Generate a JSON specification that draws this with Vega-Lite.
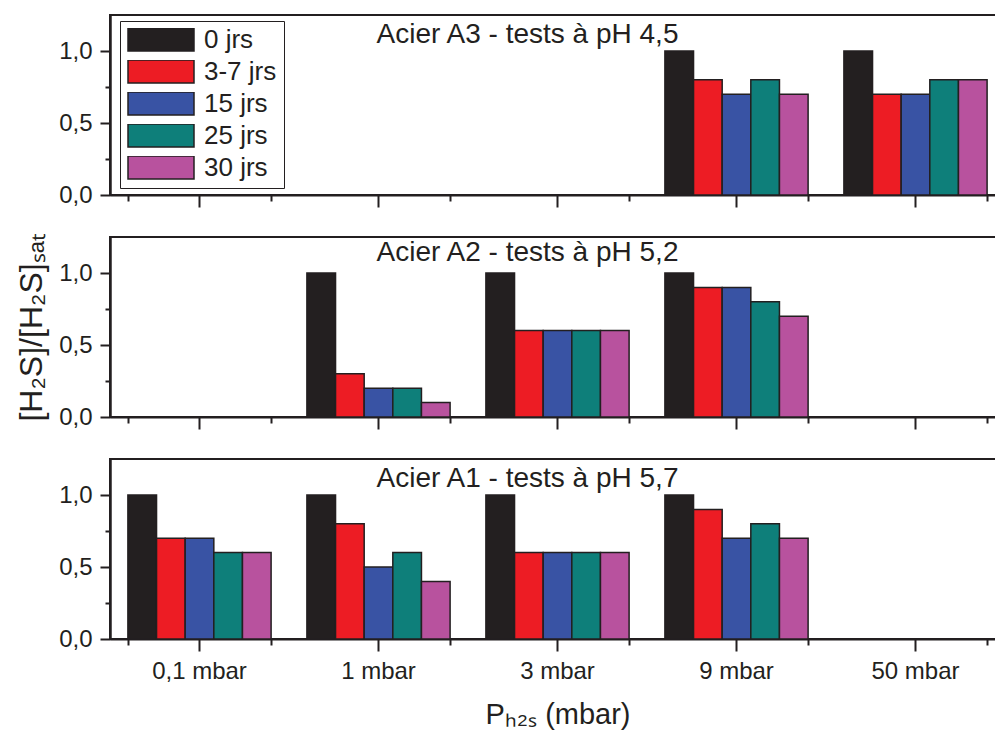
{
  "$schema": "https://vega.github.io/schema/vega-lite/v6.json",
  "padding": {"left": 14, "top": 14, "right": 0, "bottom": 0},
  "background": "white",
  "config": {
    "font": "Liberation Sans",
    "view": {"stroke": "#231f20", "strokeWidth": 2},
    "axis": {"domainColor": "#231f20", "tickColor": "#231f20", "labelColor": "#231f20", "titleColor": "#231f20", "grid": false, "labelFont": "Liberation Sans", "titleFont": "Liberation Sans", "titleFontWeight": "normal", "domainWidth": 2, "tickWidth": 2},
    "title": {"font": "Liberation Sans", "fontSize": 28, "fontWeight": "normal", "color": "#231f20", "orient": "top", "anchor": "middle", "frame": "group", "offset": -34, "baseline": "alphabetic", "dx": -30}
  },
  "datasets": {
    "bars": [
      {"panel": "A3", "pressure": "9 mbar", "duration": "0 jrs", "value": 1.0},
      {"panel": "A3", "pressure": "9 mbar", "duration": "3-7 jrs", "value": 0.8},
      {"panel": "A3", "pressure": "9 mbar", "duration": "15 jrs", "value": 0.7},
      {"panel": "A3", "pressure": "9 mbar", "duration": "25 jrs", "value": 0.8},
      {"panel": "A3", "pressure": "9 mbar", "duration": "30 jrs", "value": 0.7},
      {"panel": "A3", "pressure": "50 mbar", "duration": "0 jrs", "value": 1.0},
      {"panel": "A3", "pressure": "50 mbar", "duration": "3-7 jrs", "value": 0.7},
      {"panel": "A3", "pressure": "50 mbar", "duration": "15 jrs", "value": 0.7},
      {"panel": "A3", "pressure": "50 mbar", "duration": "25 jrs", "value": 0.8},
      {"panel": "A3", "pressure": "50 mbar", "duration": "30 jrs", "value": 0.8},
      {"panel": "A2", "pressure": "1 mbar", "duration": "0 jrs", "value": 1.0},
      {"panel": "A2", "pressure": "1 mbar", "duration": "3-7 jrs", "value": 0.3},
      {"panel": "A2", "pressure": "1 mbar", "duration": "15 jrs", "value": 0.2},
      {"panel": "A2", "pressure": "1 mbar", "duration": "25 jrs", "value": 0.2},
      {"panel": "A2", "pressure": "1 mbar", "duration": "30 jrs", "value": 0.1},
      {"panel": "A2", "pressure": "3 mbar", "duration": "0 jrs", "value": 1.0},
      {"panel": "A2", "pressure": "3 mbar", "duration": "3-7 jrs", "value": 0.6},
      {"panel": "A2", "pressure": "3 mbar", "duration": "15 jrs", "value": 0.6},
      {"panel": "A2", "pressure": "3 mbar", "duration": "25 jrs", "value": 0.6},
      {"panel": "A2", "pressure": "3 mbar", "duration": "30 jrs", "value": 0.6},
      {"panel": "A2", "pressure": "9 mbar", "duration": "0 jrs", "value": 1.0},
      {"panel": "A2", "pressure": "9 mbar", "duration": "3-7 jrs", "value": 0.9},
      {"panel": "A2", "pressure": "9 mbar", "duration": "15 jrs", "value": 0.9},
      {"panel": "A2", "pressure": "9 mbar", "duration": "25 jrs", "value": 0.8},
      {"panel": "A2", "pressure": "9 mbar", "duration": "30 jrs", "value": 0.7},
      {"panel": "A1", "pressure": "0,1 mbar", "duration": "0 jrs", "value": 1.0},
      {"panel": "A1", "pressure": "0,1 mbar", "duration": "3-7 jrs", "value": 0.7},
      {"panel": "A1", "pressure": "0,1 mbar", "duration": "15 jrs", "value": 0.7},
      {"panel": "A1", "pressure": "0,1 mbar", "duration": "25 jrs", "value": 0.6},
      {"panel": "A1", "pressure": "0,1 mbar", "duration": "30 jrs", "value": 0.6},
      {"panel": "A1", "pressure": "1 mbar", "duration": "0 jrs", "value": 1.0},
      {"panel": "A1", "pressure": "1 mbar", "duration": "3-7 jrs", "value": 0.8},
      {"panel": "A1", "pressure": "1 mbar", "duration": "15 jrs", "value": 0.5},
      {"panel": "A1", "pressure": "1 mbar", "duration": "25 jrs", "value": 0.6},
      {"panel": "A1", "pressure": "1 mbar", "duration": "30 jrs", "value": 0.4},
      {"panel": "A1", "pressure": "3 mbar", "duration": "0 jrs", "value": 1.0},
      {"panel": "A1", "pressure": "3 mbar", "duration": "3-7 jrs", "value": 0.6},
      {"panel": "A1", "pressure": "3 mbar", "duration": "15 jrs", "value": 0.6},
      {"panel": "A1", "pressure": "3 mbar", "duration": "25 jrs", "value": 0.6},
      {"panel": "A1", "pressure": "3 mbar", "duration": "30 jrs", "value": 0.6},
      {"panel": "A1", "pressure": "9 mbar", "duration": "0 jrs", "value": 1.0},
      {"panel": "A1", "pressure": "9 mbar", "duration": "3-7 jrs", "value": 0.9},
      {"panel": "A1", "pressure": "9 mbar", "duration": "15 jrs", "value": 0.7},
      {"panel": "A1", "pressure": "9 mbar", "duration": "25 jrs", "value": 0.8},
      {"panel": "A1", "pressure": "9 mbar", "duration": "30 jrs", "value": 0.7}
    ]
  },
  "spacing": 42,
  "bounds": "flush",
  "resolve": {"legend": {"color": "independent"}},
  "vconcat": [
    {
      "width": 895, "height": 180,
      "title": "Acier A3 - tests à pH 4,5",
      "data": {"name": "bars"},
      "transform": [{"filter": "datum.panel === 'A3'"}],
      "resolve": {"axis": {"x": "independent", "y": "independent"}},
      "layer": [
        {
          "mark": {"type": "bar", "stroke": "#231f20", "strokeWidth": 1.5},
          "encoding": {
            "x": {"field": "pressure", "type": "nominal", "scale": {"domain": ["0,1 mbar", "1 mbar", "3 mbar", "9 mbar", "50 mbar"], "paddingInner": 0.2, "paddingOuter": 0.1}, "axis": {"orient": "bottom", "title": null, "labels": false, "tickSize": 12}},
            "xOffset": {"field": "duration", "type": "nominal", "scale": {"domain": ["0 jrs", "3-7 jrs", "15 jrs", "25 jrs", "30 jrs"]}},
            "y": {"field": "value", "type": "quantitative", "scale": {"domain": [0, 1.25], "nice": false}, "axis": {"orient": "left", "values": [0, 0.5, 1], "tickSize": 10, "labelFontSize": 24, "labelPadding": 8, "labelExpr": "replace(format(datum.value, '.1f'), '.', ',')", "title": null, "domainWidth": 2.5}},
            "color": {"field": "duration", "type": "nominal", "scale": {"domain": ["0 jrs", "3-7 jrs", "15 jrs", "25 jrs", "30 jrs"], "range": ["#231f20", "#ed1c24", "#3953a4", "#0e7f7a", "#b8529e"]},
              "legend": {"orient": "none", "legendX": 10, "legendY": 6, "title": null, "strokeColor": "#231f20", "fillColor": "white", "padding": 7, "symbolType": "M-1,-0.35H1V0.35H-1Z", "symbolSize": 4356, "symbolStrokeColor": "#231f20", "symbolStrokeWidth": 1.5, "labelFontSize": 26, "labelFont": "Liberation Sans", "labelColor": "#231f20", "labelOffset": 9, "clipHeight": 23, "rowPadding": 5}}
          }
        },
        {
          "mark": {"type": "bar", "opacity": 0},
          "encoding": {
            "x": {"field": "pressure", "type": "nominal", "axis": {"orient": "bottom", "tickBand": "extent", "tickSize": 6, "labels": false, "domain": false, "title": null}},
            "xOffset": {"field": "duration", "type": "nominal"},
            "y": {"field": "value", "type": "quantitative", "axis": {"orient": "left", "values": [0.25, 0.75], "tickSize": 5, "labels": false, "domain": false, "title": null}}
          }
        }
      ]
    },
    {
      "width": 895, "height": 180,
      "title": "Acier A2 - tests à pH 5,2",
      "data": {"name": "bars"},
      "transform": [{"filter": "datum.panel === 'A2'"}],
      "resolve": {"axis": {"x": "independent", "y": "independent"}},
      "layer": [
        {
          "mark": {"type": "bar", "stroke": "#231f20", "strokeWidth": 1.5},
          "encoding": {
            "x": {"field": "pressure", "type": "nominal", "scale": {"domain": ["0,1 mbar", "1 mbar", "3 mbar", "9 mbar", "50 mbar"], "paddingInner": 0.2, "paddingOuter": 0.1}, "axis": {"orient": "bottom", "title": null, "labels": false, "tickSize": 12}},
            "xOffset": {"field": "duration", "type": "nominal", "scale": {"domain": ["0 jrs", "3-7 jrs", "15 jrs", "25 jrs", "30 jrs"]}},
            "y": {"field": "value", "type": "quantitative", "scale": {"domain": [0, 1.25], "nice": false}, "axis": {"orient": "left", "values": [0, 0.5, 1], "tickSize": 10, "labelFontSize": 24, "labelPadding": 8, "labelExpr": "replace(format(datum.value, '.1f'), '.', ',')", "title": "[H₂S]/[H₂S]ₛₐₜ", "titleFontSize": 32, "titlePadding": 10, "domainWidth": 2.5}},
            "color": {"field": "duration", "type": "nominal", "scale": {"domain": ["0 jrs", "3-7 jrs", "15 jrs", "25 jrs", "30 jrs"], "range": ["#231f20", "#ed1c24", "#3953a4", "#0e7f7a", "#b8529e"]}, "legend": null}
          }
        },
        {
          "mark": {"type": "bar", "opacity": 0},
          "encoding": {
            "x": {"field": "pressure", "type": "nominal", "axis": {"orient": "bottom", "tickBand": "extent", "tickSize": 6, "labels": false, "domain": false, "title": null}},
            "xOffset": {"field": "duration", "type": "nominal"},
            "y": {"field": "value", "type": "quantitative", "axis": {"orient": "left", "values": [0.25, 0.75], "tickSize": 5, "labels": false, "domain": false, "title": null}}
          }
        }
      ]
    },
    {
      "width": 895, "height": 180,
      "title": "Acier A1 - tests à pH 5,7",
      "data": {"name": "bars"},
      "transform": [{"filter": "datum.panel === 'A1'"}],
      "resolve": {"axis": {"x": "independent", "y": "independent"}},
      "layer": [
        {
          "mark": {"type": "bar", "stroke": "#231f20", "strokeWidth": 1.5},
          "encoding": {
            "x": {"field": "pressure", "type": "nominal", "scale": {"domain": ["0,1 mbar", "1 mbar", "3 mbar", "9 mbar", "50 mbar"], "paddingInner": 0.2, "paddingOuter": 0.1}, "axis": {"orient": "bottom", "title": "Pₕ₂ₛ (mbar)", "titleFontSize": 29, "titlePadding": 17, "labels": true, "labelFontSize": 24, "labelPadding": 8, "labelAngle": 0, "tickSize": 12}},
            "xOffset": {"field": "duration", "type": "nominal", "scale": {"domain": ["0 jrs", "3-7 jrs", "15 jrs", "25 jrs", "30 jrs"]}},
            "y": {"field": "value", "type": "quantitative", "scale": {"domain": [0, 1.25], "nice": false}, "axis": {"orient": "left", "values": [0, 0.5, 1], "tickSize": 10, "labelFontSize": 24, "labelPadding": 8, "labelExpr": "replace(format(datum.value, '.1f'), '.', ',')", "title": null, "domainWidth": 2.5}},
            "color": {"field": "duration", "type": "nominal", "scale": {"domain": ["0 jrs", "3-7 jrs", "15 jrs", "25 jrs", "30 jrs"], "range": ["#231f20", "#ed1c24", "#3953a4", "#0e7f7a", "#b8529e"]}, "legend": null}
          }
        },
        {
          "mark": {"type": "bar", "opacity": 0},
          "encoding": {
            "x": {"field": "pressure", "type": "nominal", "axis": {"orient": "bottom", "tickBand": "extent", "tickSize": 6, "labels": false, "domain": false, "title": null}},
            "xOffset": {"field": "duration", "type": "nominal"},
            "y": {"field": "value", "type": "quantitative", "axis": {"orient": "left", "values": [0.25, 0.75], "tickSize": 5, "labels": false, "domain": false, "title": null}}
          }
        }
      ]
    }
  ]
}
